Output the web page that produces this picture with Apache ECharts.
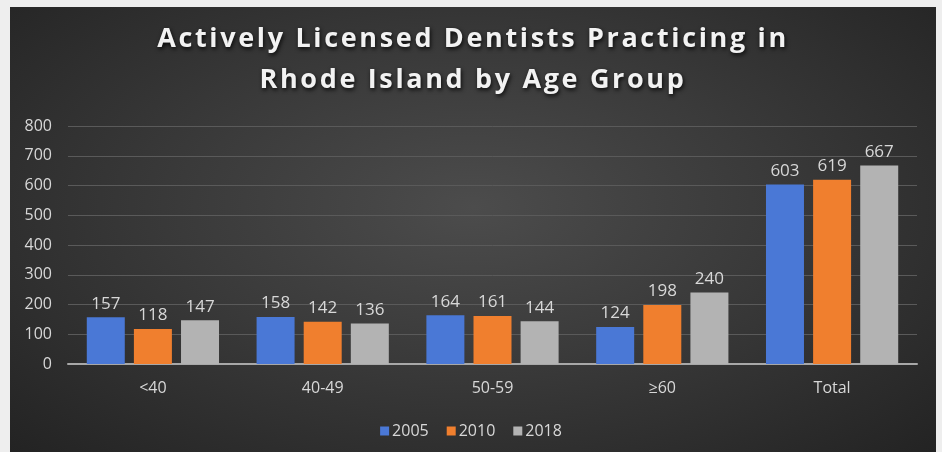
<!DOCTYPE html>
<html><head><meta charset="utf-8">
<script src="https://cdn.jsdelivr.net/npm/echarts@6/dist/echarts.min.js"></script>
<style>
html,body{margin:0;padding:0;width:942px;height:452px;overflow:hidden;background:#eeeeee;}
#bg{position:absolute;left:10px;top:7px;width:926px;height:445px;
background:radial-gradient(ellipse at 50% 45%, #4c4c4c 0%, #3a3a3a 45%, #232323 100%);}
#chart{position:absolute;left:0;top:0;width:942px;height:452px;}
#title{position:absolute;left:10px;top:16px;width:926px;text-align:center;color:#f2f2f2;
font-family:'Open Sans';font-weight:700;font-size:27px;line-height:41px;letter-spacing:2.65px;
text-shadow:1px 2px 4px rgba(0,0,0,0.85);}
</style></head>
<body>
<div id="bg"></div>
<div id="chart"></div>
<div id="title">Actively Licensed Dentists Practicing in<br>Rhode Island by Age Group</div>
<script>
const categories = ['<40', '40-49', '50-59', '≥60', 'Total'];
const seriesNames = ['2005', '2010', '2018'];
const values2005 = [157, 158, 164, 124, 603];
const values2010 = [118, 142, 161, 198, 619];
const values2018 = [147, 136, 144, 240, 667];
const yTicks = [0, 100, 200, 300, 400, 500, 600, 700, 800];

const colors = ['#4a78d6', '#f07f2e', '#b3b3b3'];
const chart = echarts.init(document.getElementById('chart'));
const labelStyle = {show: true, position: 'top', color: '#d8d8d8', fontSize: 17, fontFamily: 'Open Sans', distance: 5};
function mk(name, data, i) {
  return {name, type: 'bar', data, barWidth: 38, barGap: '24%',
    itemStyle: {color: colors[i]}, label: labelStyle};
}
chart.setOption({
  backgroundColor: 'transparent',
  legend: {bottom: 8, left: 'center', itemWidth: 9, itemHeight: 9, itemGap: 18, icon: 'rect',
    textStyle: {color: '#d8d8d8', fontSize: 16, fontFamily: 'Open Sans', padding: [0, 0, 0, -2]}, data: seriesNames},
  grid: {left: 68, right: 25, top: 126, bottom: 88},
  xAxis: {type: 'category', data: categories,
    axisLine: {lineStyle: {color: '#a8a8a8', width: 2}}, axisTick: {show: false},
    axisLabel: {color: '#d8d8d8', fontSize: 16, fontFamily: 'Open Sans', margin: 16}},
  yAxis: {type: 'value', min: yTicks[0], max: yTicks[yTicks.length - 1], interval: 100,
    axisLine: {show: false}, axisTick: {show: false},
    axisLabel: {color: '#d8d8d8', fontSize: 16, fontFamily: 'Open Sans', margin: 16},
    splitLine: {lineStyle: {color: '#5a5a5a', width: 1}}},
  series: [mk(seriesNames[0], values2005, 0), mk(seriesNames[1], values2010, 1), mk(seriesNames[2], values2018, 2)]
});
</script>
</body></html>
